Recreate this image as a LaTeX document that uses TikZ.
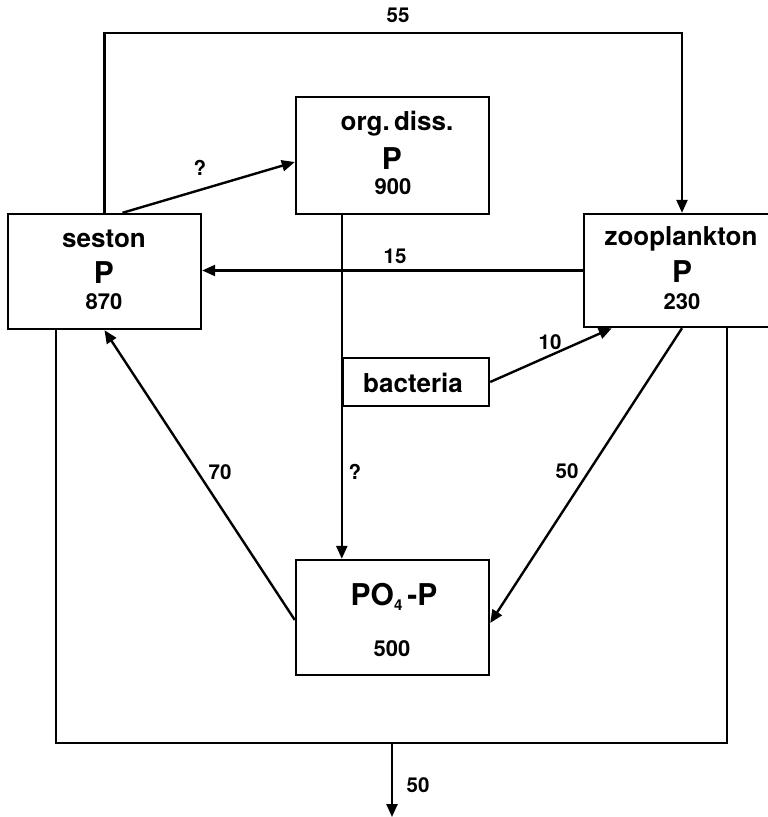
\documentclass[tikz,border=0pt]{standalone}
\usepackage{fontspec}
\setmainfont{TeX Gyre Heros}
\usetikzlibrary{arrows.meta}
\begin{document}
\begin{tikzpicture}[x=1pt,y=-1pt,
  box/.style={draw,line width=2.4pt,inner sep=0pt},
  boxname/.style={font=\bfseries\fontsize{26}{30}\selectfont,inner sep=0pt},
  bigp/.style={font=\bfseries\fontsize{30}{34}\selectfont,inner sep=0pt},
  stocknum/.style={font=\bfseries\fontsize{22}{25}\selectfont,inner sep=0pt},
  flowlab/.style={font=\bfseries\fontsize{20.5}{23}\selectfont,inner sep=0pt},
  plainline/.style={line width=2.4pt},
  arr/.style={line width=2.4pt,-{Triangle[length=13pt,width=11pt]}}]
\useasboundingbox (0,0) rectangle (768,817);
% boxes
\node[box,minimum width=193pt,minimum height=115pt] (seston) at (104.5,271.5) {};
\node[box,minimum width=193pt,minimum height=117pt] (orgdiss) at (392.5,155.5) {};
\node[box,minimum width=196pt,minimum height=113pt] (zoo) at (682,270.5) {};
\node[box,minimum width=146pt,minimum height=48pt] (bact) at (416,382) {};
\node[box,minimum width=193pt,minimum height=115pt] (po4) at (392.5,617.5) {};
% box texts
\node[boxname] (tses) at (104,239) {seston};
\node[bigp] (pses) at (104,273) {P};
\node[stocknum] (nses) at (104,302) {870};
\node[boxname] (torg) at (397,124) {org.\,diss.};
\node[bigp] (porg) at (392,159) {P};
\node[stocknum] (norg) at (393,187) {900};
\node[boxname] (tzoo) at (681,239) {zooplankton};
\node[bigp] (pzoo) at (682,272) {P};
\node[stocknum] (nzoo) at (682,302) {230};
\node[boxname] (tbact) at (413,383) {bacteria};
\node[bigp] (tpo4) at (394,597) {PO\raisebox{-0.3ex}{\fontsize{15}{17}\selectfont 4}\,-P};
\node[stocknum] (npo4) at (392,649) {500};
% coordinates
\coordinate (t1) at (104.5,33);
\coordinate (t2) at (682,33);
\coordinate (b1) at (56,743);
\coordinate (b2) at (727,743);
\coordinate (o1) at (392,743);
\coordinate (o2) at (392,817);
% connectors
\draw[arr] (seston.north) -- (t1) -- (t2) -- (zoo.north);
\draw[arr] ([xshift=18pt]seston.north) -- ([yshift=-6.5pt]orgdiss.west);
\draw[arr] (zoo.west) -- (seston.east |- zoo.west);
\draw[arr] (orgdiss.south -| bact.west) -- (po4.north -| bact.west);
\draw[arr] (bact.east) -- ([xshift=29pt]zoo.south west);
\draw[arr] (zoo.south) -- ([yshift=-5.5pt]po4.east);
\draw[arr] ([yshift=-2.5pt]po4.west) -- (seston.south);
\draw[plainline] (seston.south west -| b1) -- (b1) -- (b2) -- (zoo.south west -| b2);
\draw[arr] (o1) -- (o2);
% flow labels
\node[flowlab] (l55) at (398,15) {55};
\node[flowlab] (lq1) at (200,168) {?};
\node[flowlab] (l15) at (395,256) {15};
\node[flowlab] (l10) at (550,342) {10};
\node[flowlab] (lq2) at (355,472) {?};
\node[flowlab] (l70) at (220,472) {70};
\node[flowlab] (l50a) at (567,471) {50};
\node[flowlab] (l50b) at (418,785) {50};
\end{tikzpicture}
\end{document}
